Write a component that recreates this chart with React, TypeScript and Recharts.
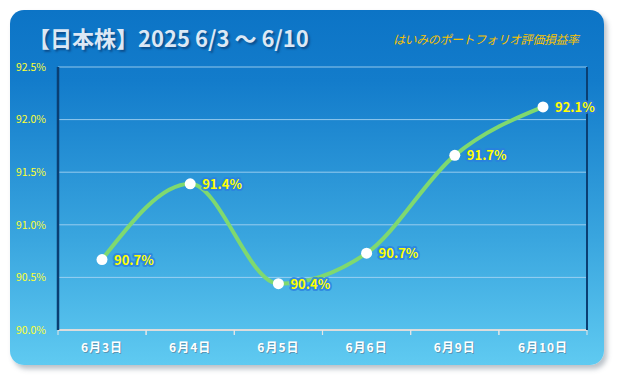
import { CartesianGrid, LabelList, Line, LineChart, XAxis, YAxis } from "recharts";

// 評価損益率 (%) — 日本株
const dates = ["6月3日", "6月4日", "6月5日", "6月6日", "6月9日", "6月10日"];
const rates = [90.67, 91.39, 90.44, 90.73, 91.66, 92.12];
const yTicks = [90, 90.5, 91, 91.5, 92, 92.5];

const data = dates.map((d, i) => ({ date: d, rate: rates[i] }));

const FONT = "'Noto Sans CJK JP', 'Noto Sans', sans-serif";

function XTick(props: any) {
	const { x, y, payload } = props;
	const half = 44;
	return (
		<g>
			<line x1={x - half} y1={y - 8} x2={x - half} y2={y - 3} stroke="#e6e6e6" strokeWidth={1} />
			<line x1={x + half} y1={y - 8} x2={x + half} y2={y - 3} stroke="#e6e6e6" strokeWidth={1} />
			<text
				x={x + 1}
				y={y + 15}
				textAnchor="middle"
				fontSize={12}
				fontWeight={700}
				fill="#5a7a90"
				fontFamily={FONT}
				letterSpacing={1}
				opacity={0.6}
			>
				{payload.value}
			</text>
			<text
				x={x}
				y={y + 14}
				textAnchor="middle"
				fontSize={12}
				fontWeight={700}
				fill="#ffffff"
				fontFamily={FONT}
				letterSpacing={1}
			>
				{payload.value}
			</text>
		</g>
	);
}

function PointLabel(props: any) {
	const { x, y, value } = props;
	const txt = `${Number(value).toFixed(1)}%`;
	return (
		<text
			x={x + 12}
			y={y + 5}
			fontSize={13}
			fontWeight={700}
			fill="#ffff00"
			fontFamily={FONT}
			stroke="#2a7fe0"
			strokeOpacity={0.75}
			strokeWidth={4}
			strokeLinejoin="round"
			paintOrder="stroke"
		>
			{txt}
		</text>
	);
}

export default function App() {
	return (
		<div style={{ position: "absolute", left: 0, top: 0, width: 617, height: 380, background: "#fff" }}>
			<div
				style={{
					position: "absolute",
					left: 10,
					top: 10,
					width: 594,
					height: 355,
					borderRadius: 14,
					background: "linear-gradient(to bottom, #0c74c6 0%, #137ccb 20%, #3aa6df 65%, #5fcaf1 100%)",
					boxShadow: "3px 4px 5px rgba(60,80,100,0.35)",
				}}
			/>
			<div
				style={{
					position: "absolute",
					left: 28,
					top: 21,
					fontFamily: FONT,
					fontSize: 22,
					fontWeight: 700,
					color: "#dce8f5",
					textShadow: "2px 2px 2px rgba(10,50,100,0.6)",
					whiteSpace: "nowrap",
				}}
			>
				【日本株】2025 6/3 〜 6/10
			</div>
			<div
				style={{
					position: "absolute",
					left: 393,
					top: 30,
					fontFamily: FONT,
					fontSize: 12,
					fontStyle: "italic",
					color: "#f7c200",
					whiteSpace: "nowrap",
					letterSpacing: -0.4,
				}}
			>
				はいみのポートフォリオ評価損益率
			</div>
			<div style={{ position: "absolute", left: 0, top: 0 }}>
				<LineChart width={617} height={380} data={data} margin={{ top: 67, right: 0, bottom: 20, left: 0 }}>
					<CartesianGrid vertical={false} stroke="#a9d6f3" strokeOpacity={0.85} strokeWidth={1} />
					<XAxis
						dataKey="date"
						height={30}
						padding={{ left: 44, right: 44 }}
						axisLine={{ stroke: "#dcdcdc", strokeWidth: 2 }}
						tickLine={false}
						tick={<XTick />}
						interval={0}
					/>
					<YAxis
						width={58}
						domain={[90, 92.5]}
						ticks={yTicks}
						tickFormatter={(v: number) => `${v.toFixed(1)}%`}
						tick={{ fontSize: 10.5, fill: "#ffff33", fontFamily: FONT }}
						tickLine={false}
						tickMargin={6}
						axisLine={{ stroke: "#0a3f73", strokeWidth: 2.5 }}
						allowDataOverflow
					/>
					<YAxis
						yAxisId="right"
						orientation="right"
						width={30}
						domain={[90, 92.5]}
						tick={false}
						tickLine={false}
						axisLine={{ stroke: "#0a3f73", strokeWidth: 2 }}
					/>
					<Line
						type="monotone"
						dataKey="rate"
						stroke="#7fd96f"
						strokeWidth={4}
						dot={{ r: 5.5, fill: "#ffffff", stroke: "none" }}
						activeDot={false}
						isAnimationActive={false}
					>
						<LabelList dataKey="rate" content={<PointLabel />} />
					</Line>
				</LineChart>
			</div>
		</div>
	);
}
